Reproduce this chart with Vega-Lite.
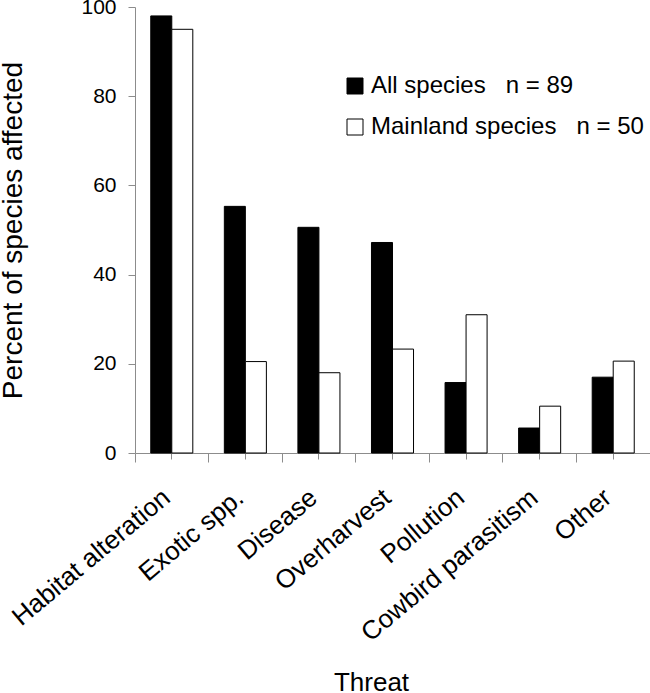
{
  "$schema": "https://vega.github.io/schema/vega-lite/v6.json",
  "autosize": "none",
  "width": 515,
  "height": 446,
  "padding": {"left": 135, "top": 7, "right": 0, "bottom": 240},
  "background": "white",
  "config": {
    "view": {"stroke": null},
    "font": "Liberation Sans",
    "axis": {"grid": false, "labelFont": "Liberation Sans", "titleFont": "Liberation Sans", "labelColor": "black", "titleColor": "black", "titleFontWeight": "normal", "domainColor": "#8c8c8c", "tickColor": "#8c8c8c"},
    "legend": {"labelFont": "Liberation Sans"}
  },
  "data": {
    "values": [
      {"threat": "Habitat alteration", "group": "All species\u00a0\u00a0\u00a0n = 89", "percent": 98},
      {"threat": "Habitat alteration", "group": "Mainland species\u00a0\u00a0\u00a0n = 50", "percent": 95},
      {"threat": "Exotic spp.", "group": "All species\u00a0\u00a0\u00a0n = 89", "percent": 55.3},
      {"threat": "Exotic spp.", "group": "Mainland species\u00a0\u00a0\u00a0n = 50", "percent": 20.5},
      {"threat": "Disease", "group": "All species\u00a0\u00a0\u00a0n = 89", "percent": 50.6},
      {"threat": "Disease", "group": "Mainland species\u00a0\u00a0\u00a0n = 50", "percent": 18},
      {"threat": "Overharvest", "group": "All species\u00a0\u00a0\u00a0n = 89", "percent": 47.2},
      {"threat": "Overharvest", "group": "Mainland species\u00a0\u00a0\u00a0n = 50", "percent": 23.3},
      {"threat": "Pollution", "group": "All species\u00a0\u00a0\u00a0n = 89", "percent": 15.8},
      {"threat": "Pollution", "group": "Mainland species\u00a0\u00a0\u00a0n = 50", "percent": 31},
      {"threat": "Cowbird parasitism", "group": "All species\u00a0\u00a0\u00a0n = 89", "percent": 5.6},
      {"threat": "Cowbird parasitism", "group": "Mainland species\u00a0\u00a0\u00a0n = 50", "percent": 10.5},
      {"threat": "Other", "group": "All species\u00a0\u00a0\u00a0n = 89", "percent": 17},
      {"threat": "Other", "group": "Mainland species\u00a0\u00a0\u00a0n = 50", "percent": 20.6}
    ]
  },
  "layer": [
    {
      "mark": {"type": "bar", "stroke": "black", "strokeWidth": 1},
      "encoding": {
        "x": {
          "field": "threat", "type": "nominal", "sort": null,
          "scale": {"paddingInner": 0, "paddingOuter": 0},
          "axis": {
            "orient": "bottom",
            "title": "Threat", "titleFontSize": 26,
            "titleX": 236, "titleY": 237, "titleBaseline": "alphabetic", "titleAlign": "center",
            "labelAngle": -40, "labelAlign": "right", "labelBaseline": "alphabetic",
            "labelFontSize": 26, "labelPadding": 41, "tickSize": 6, "labelLimit": 400
          }
        },
        "xOffset": {
          "field": "group", "type": "nominal",
          "scale": {"paddingInner": 0, "paddingOuter": 0.75}
        },
        "y": {
          "field": "percent", "type": "quantitative",
          "scale": {"domain": [0, 100], "nice": false},
          "axis": {
            "title": "Percent of species affected", "titleFontSize": 28,
            "titleX": -122, "titleY": 223, "titleAlign": "center", "titleBaseline": "middle", "titleAngle": -90,
            "values": [0, 20, 40, 60, 80, 100], "tickSize": 7, "labelPadding": 12, "labelFontSize": 21
          }
        },
        "fill": {
          "field": "group", "type": "nominal",
          "scale": {"domain": ["All species\u00a0\u00a0\u00a0n = 89", "Mainland species\u00a0\u00a0\u00a0n = 50"], "range": ["black", "white"]},
          "legend": {
            "title": null, "orient": "none", "legendX": 208, "legendY": 67,
            "symbolType": "square", "symbolSize": 256, "symbolStrokeColor": "black", "symbolStrokeWidth": 1,
            "labelFontSize": 24, "labelOffset": 4, "rowPadding": 17, "padding": 0, "labelLimit": 400
          }
        }
      }
    },
    {
      "mark": {"type": "rule", "opacity": 0},
      "encoding": {
        "x": {
          "field": "threat", "type": "nominal", "sort": null,
          "axis": {"orient": "bottom", "title": null, "labels": false, "domain": false, "tickSize": 9, "bandPosition": 0}
        }
      }
    }
  ],
  "resolve": {"axis": {"x": "independent"}}
}
